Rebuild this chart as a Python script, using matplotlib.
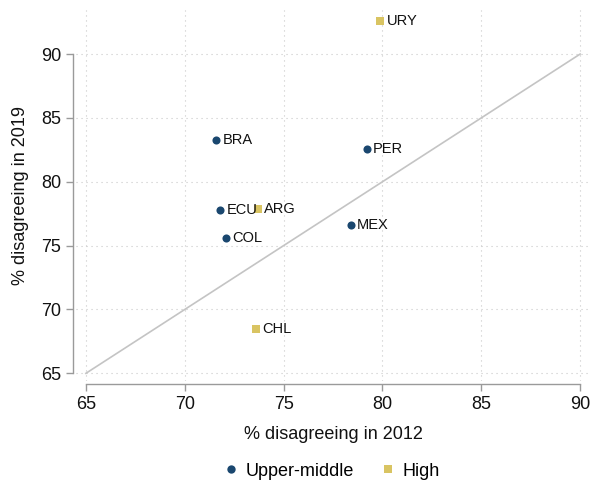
import matplotlib.pyplot as plt
from matplotlib.lines import Line2D

plt.rcParams['font.family'] = ['Liberation Sans', 'DejaVu Sans']

# share disagreeing, by country and income group
countries = ["BRA", "PER", "ECU", "MEX", "COL", "ARG", "URY", "CHL"]
income = ["Upper-middle", "Upper-middle", "Upper-middle", "Upper-middle",
          "Upper-middle", "High", "High", "High"]
pct_2012 = [71.6, 79.2, 71.8, 78.4, 72.1, 73.7, 79.9, 73.6]
pct_2019 = [83.3, 82.6, 77.8, 76.6, 75.6, 77.9, 92.6, 68.5]

groups = ["Upper-middle", "High"]
colors = {"Upper-middle": "#1a476f", "High": "#d9c462"}
markers = {"Upper-middle": "o", "High": "s"}

fig = plt.figure(figsize=(5.93, 4.83), dpi=100)
ax = fig.add_axes([76 / 593, 1 - 381 / 483, 514 / 593, 371 / 483])

ax.set_xlim(64.5, 90.5)
ax.set_ylim(64.4, 93.45)
ticks = [65, 70, 75, 80, 85, 90]
ax.set_xticks(ticks)
ax.set_yticks(ticks)
ax.grid(True, color="#c8c8c8", linestyle=(0, (1, 3.5)), linewidth=0.8)
ax.set_axisbelow(True)

# 45-degree reference line
ax.plot([65, 90], [65, 90], color="#c4c4c4", linewidth=1.2, zorder=1)

for g in groups:
    xs = [x for x, k in zip(pct_2012, income) if k == g]
    ys = [y for y, k in zip(pct_2019, income) if k == g]
    ax.scatter(xs, ys, s=34, marker=markers[g], color=colors[g],
               linewidths=0, zorder=3)

for name, x, y in zip(countries, pct_2012, pct_2019):
    ax.annotate(name, (x, y), xytext=(4.5, 0), textcoords="offset points",
                va="center", ha="left", fontsize=10.5, color="#111111",
                zorder=4)

for side in ["top", "right"]:
    ax.spines[side].set_visible(False)
for side in ["left", "bottom"]:
    ax.spines[side].set_position(("outward", 2.5))
    ax.spines[side].set_bounds(65, 90)
    ax.spines[side].set_color("#9a9a9a")
    ax.spines[side].set_linewidth(1.0)
ax.tick_params(length=5, width=1.0, color="#9a9a9a", labelsize=13,
               labelcolor="#111111", pad=3)

ax.set_xlabel("% disagreeing in 2012", fontsize=13, color="#111111", labelpad=10)
ax.set_ylabel("% disagreeing in 2019", fontsize=13, color="#111111", labelpad=9)

handles = [Line2D([], [], linestyle="", marker=markers[g], color=colors[g],
                  markersize=6, markeredgewidth=0) for g in groups]
fig.legend(handles, groups, loc="center", bbox_to_anchor=(331 / 593, 1 - 471 / 483),
           ncol=2, frameon=False, fontsize=13, handletextpad=0.28,
           columnspacing=1.4, handlelength=1.0)

fig.savefig("out.png", dpi=100)
